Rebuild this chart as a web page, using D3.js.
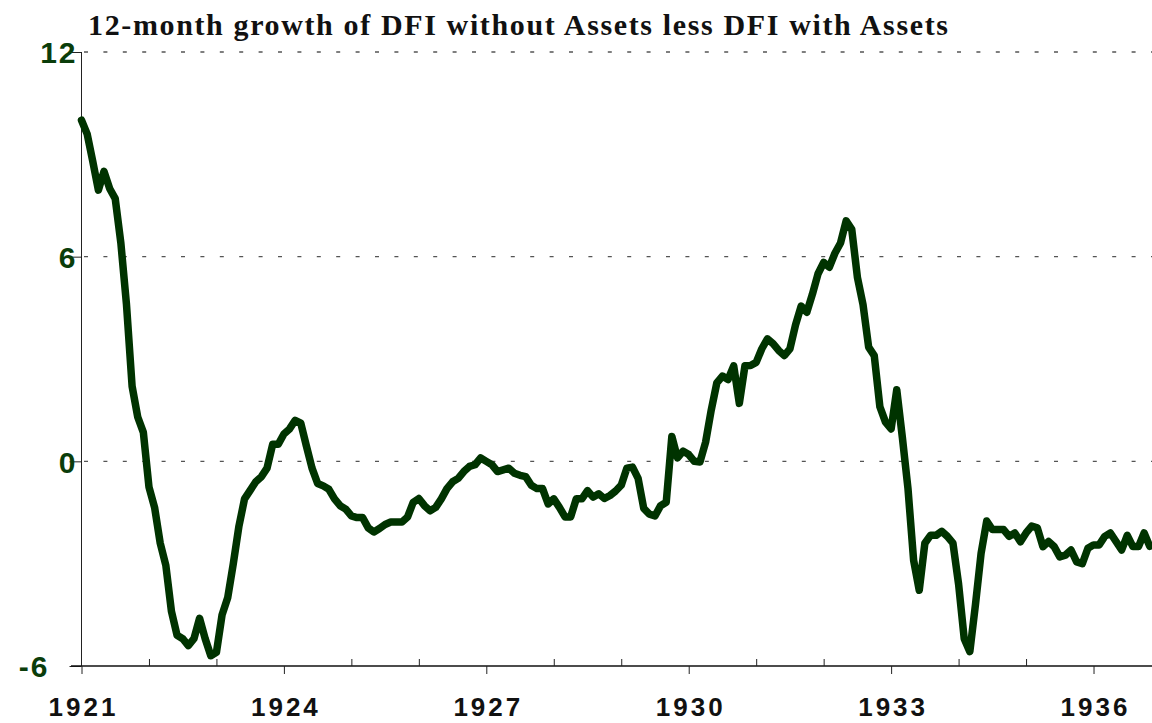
<!DOCTYPE html>
<html>
<head>
<meta charset="utf-8">
<script src="https://cdn.jsdelivr.net/npm/d3@7"></script>
<style>
  body { margin: 0; background: #fff; }
  svg { display: block; }
</style>
</head>
<body>
<svg width="1152" height="723"></svg>
<script>
// monthly series, Jan 1921 onward
var startYear = 1921;
var growth = [
  10.0, 9.6, 8.8, 7.95, 8.5, 8.0, 7.7, 6.4, 4.6, 2.2, 1.3, 0.85,
  -0.75, -1.35, -2.4, -3.05, -4.4, -5.1, -5.2, -5.4, -5.2, -4.6, -5.2, -5.7,
  -5.6, -4.5, -4.0, -3.0, -1.9, -1.1, -0.85, -0.6, -0.45, -0.2, 0.5, 0.5,
  0.8, 0.95, 1.2, 1.12, 0.45, -0.2, -0.65, -0.72, -0.82, -1.1, -1.3, -1.4,
  -1.6, -1.65, -1.65, -1.95, -2.07, -1.97, -1.85, -1.78, -1.78, -1.78, -1.63, -1.2,
  -1.09, -1.3, -1.45, -1.35, -1.1, -0.8, -0.6, -0.5, -0.3, -0.15, -0.1, 0.1,
  0.0, -0.1, -0.3, -0.25, -0.2, -0.35, -0.41, -0.45, -0.7, -0.8, -0.8, -1.25,
  -1.1, -1.35, -1.63, -1.63, -1.1, -1.1, -0.86, -1.05, -0.95, -1.09, -1.0, -0.87,
  -0.7, -0.2, -0.17, -0.5, -1.38, -1.55, -1.6, -1.3, -1.2, 0.73, 0.1, 0.3,
  0.2, 0.0, -0.02, 0.56, 1.5, 2.3, 2.5, 2.4, 2.8, 1.7, 2.8, 2.81,
  2.9, 3.3, 3.59, 3.45, 3.25, 3.1, 3.3, 4.0, 4.55, 4.37, 4.9, 5.5,
  5.83, 5.69, 6.1, 6.4, 7.05, 6.8, 5.4, 4.6, 3.35, 3.1, 1.6, 1.15,
  0.95, 2.1, 0.7, -0.8, -2.9, -3.78, -2.4, -2.17, -2.17, -2.05, -2.2, -2.4,
  -3.6, -5.2, -5.58, -4.2, -2.7, -1.75, -2.0, -2.0, -2.0, -2.2, -2.1, -2.36,
  -2.1, -1.9, -1.95, -2.5, -2.35, -2.5, -2.8, -2.75, -2.6, -2.95, -3.0, -2.55,
  -2.45, -2.45, -2.2, -2.1, -2.35, -2.6, -2.17, -2.5, -2.5, -2.1, -2.49
];
var yTicks = [12, 6, 0, -6];
var gridValues = [12, 6, 0];
var years = d3.range(1921, 1937);
var labelYears = [1921, 1924, 1927, 1930, 1933, 1936];
var title = "12-month growth of DFI without Assets less DFI with Assets";

var green = "#003300";
var svg = d3.select("svg");

var data = growth.map((v, i) => ({ t: startYear + i / 12, v: v }));

var x = d3.scaleLinear()
    .domain([startYear, startYear + 190.4 / 12])
    .range([81.5, 1152]);
var y = d3.scaleLinear()
    .domain([-6, 12])
    .range([666, 52]);

// dotted gridlines
svg.append("g").selectAll("line")
    .data(gridValues).enter().append("line")
    .attr("x1", 84).attr("x2", 1152)
    .attr("y1", d => y(d)).attr("y2", d => y(d))
    .attr("stroke", "#555").attr("stroke-width", 1.3)
    .attr("stroke-dasharray", "4,15.4");

// y axis
var yAxis = svg.append("g")
    .attr("transform", "translate(81.5,0)")
    .call(d3.axisLeft(y).tickValues(yTicks).tickSize(12).tickPadding(6)
        .tickFormat(d => String(d)));
yAxis.select(".domain").attr("stroke", "#222").attr("d", "M0," + y(12) + "V" + y(-6));
yAxis.selectAll(".tick line").attr("stroke", "#222");
yAxis.selectAll(".tick text")
    .attr("font-family", "Liberation Sans, Arial, sans-serif")
    .attr("font-weight", "bold")
    .attr("font-size", 30)
    .attr("letter-spacing", 2)
    .attr("fill", "#0a3d0a")
    .attr("dy", "0.36em")
    .attr("x", d => d === -6 ? -32 : -4);

// x axis: labelled ticks below, minor ticks above
var xMajor = svg.append("g")
    .attr("transform", "translate(0," + y(-6) + ")")
    .call(d3.axisBottom(x).tickValues(labelYears).tickSize(8).tickPadding(24)
        .tickFormat(d3.format("d")));
xMajor.select(".domain").attr("stroke", "#111").attr("stroke-width", 1.5)
    .attr("d", "M71,0H1152");
xMajor.selectAll(".tick line").attr("stroke", "#222");
xMajor.selectAll(".tick text")
    .attr("font-family", "Liberation Sans, Arial, sans-serif")
    .attr("font-weight", "bold")
    .attr("font-size", 26)
    .attr("letter-spacing", 3)
    .attr("fill", "#111")
    .attr("dx", 1.5);

var xMinor = svg.append("g")
    .attr("transform", "translate(0," + y(-6) + ")")
    .call(d3.axisTop(x).tickValues(years.filter(d => labelYears.indexOf(d) < 0))
        .tickSize(7).tickFormat(""));
xMinor.select(".domain").remove();
xMinor.selectAll(".tick line").attr("stroke", "#222");

// series line
var line = d3.line().x(d => x(d.t)).y(d => y(d.v));
svg.append("path")
    .datum(data)
    .attr("fill", "none")
    .attr("stroke", green)
    .attr("stroke-width", 7.5)
    .attr("stroke-linejoin", "round")
    .attr("stroke-linecap", "round")
    .attr("d", line);

// title
svg.append("text")
    .attr("x", 88).attr("y", 35)
    .attr("font-family", "Liberation Serif, Times New Roman, serif")
    .attr("font-weight", "bold")
    .attr("font-size", 30)
    .attr("fill", "#111")
    .attr("textLength", 860)
    .attr("lengthAdjust", "spacing")
    .text(title);
</script>
</body>
</html>
